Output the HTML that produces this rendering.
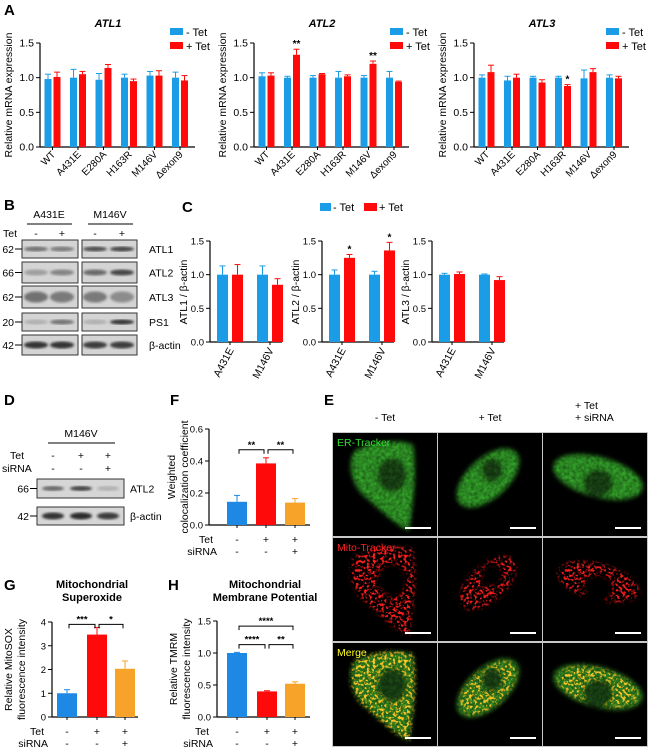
<!DOCTYPE html>
<html><head><meta charset="utf-8"><style>
html,body{margin:0;padding:0;background:#fff;}
svg{display:block;font-family:"Liberation Sans",Arial,sans-serif;}
</style></head><body>
<svg id="fig" width="654" height="755" viewBox="0 0 654 755" xmlns="http://www.w3.org/2000/svg">
<defs>
<filter id="blur1" x="-10%" y="-10%" width="120%" height="120%"><feGaussianBlur stdDeviation="1.2"/></filter>
<filter id="gtex" x="-20%" y="-20%" width="140%" height="140%">
<feGaussianBlur in="SourceGraphic" stdDeviation="2.5" result="b"/>
<feTurbulence type="fractalNoise" baseFrequency="0.3" numOctaves="2" seed="2" result="n"/>
<feColorMatrix in="n" type="matrix" values="0 0 0 0 0  0 0 0 0 0  0 0 0 0 0  0.7 0 0 0 0.45" result="m"/>
<feComposite in="b" in2="m" operator="in"/>
</filter>
<filter id="speck" x="-20%" y="-20%" width="140%" height="140%">
<feGaussianBlur in="SourceGraphic" stdDeviation="2" result="b"/>
<feTurbulence type="fractalNoise" baseFrequency="0.35" numOctaves="2" seed="5" result="n"/>
<feColorMatrix in="n" type="matrix" values="0 0 0 0 0  0 0 0 0 0  0 0 0 0 0  6 0 0 0 -2.9" result="m"/>
<feComposite in="b" in2="m" operator="in"/>
</filter>
<clipPath id="imgclip"><rect x="0" y="0" width="104" height="103"/></clipPath>
</defs>
</svg>
<script>
// ---------- DATA ----------
const catsA = ['WT','A431E','E280A','H163R','M146V','\u0394exon9'];
const tickValsA = [0, 0.5, 1.0, 1.5];
const tickLabelsA = ['0.0','0.5','1.0','1.5'];
const atl1Minus = [0.98, 1.00, 0.97, 1.00, 1.03, 1.00];
const atl1MinusErr = [0.07, 0.12, 0.09, 0.05, 0.06, 0.08];
const atl1Plus = [1.01, 1.05, 1.14, 0.95, 1.03, 0.96];
const atl1PlusErr = [0.07, 0.04, 0.05, 0.03, 0.07, 0.07];
const atl1Stars = ['', '', '', '', '', ''];
const atl2Minus = [1.02, 1.00, 1.00, 1.00, 1.00, 1.00];
const atl2MinusErr = [0.05, 0.02, 0.03, 0.09, 0.03, 0.09];
const atl2Plus = [1.03, 1.33, 1.05, 1.02, 1.20, 0.94];
const atl2PlusErr = [0.04, 0.08, 0.01, 0.02, 0.04, 0.01];
const atl2Stars = ['', '**', '', '', '**', ''];
const atl3Minus = [1.00, 0.96, 1.00, 1.00, 0.99, 1.00];
const atl3MinusErr = [0.04, 0.06, 0.02, 0.02, 0.12, 0.04];
const atl3Plus = [1.08, 1.00, 0.93, 0.88, 1.08, 0.99];
const atl3PlusErr = [0.10, 0.05, 0.04, 0.02, 0.05, 0.03];
const atl3Stars = ['', '', '', '*', '', ''];

const catsC = ['A431E','M146V'];
const cAtl1Minus = [1.0, 1.0];
const cAtl1MinusErr = [0.13, 0.13];
const cAtl1Plus = [1.0, 0.85];
const cAtl1PlusErr = [0.15, 0.09];
const cAtl2Minus = [1.0, 1.0];
const cAtl2MinusErr = [0.07, 0.05];
const cAtl2Plus = [1.25, 1.36];
const cAtl2PlusErr = [0.05, 0.12];
const cAtl2Stars = ['*', '*'];
const cAtl3Minus = [1.0, 1.0];
const cAtl3MinusErr = [0.02, 0.01];
const cAtl3Plus = [1.01, 0.92];
const cAtl3PlusErr = [0.03, 0.05];

const condTet = ['-', '+', '+'];
const condSi = ['-', '-', '+'];
const fVals = [0.145, 0.385, 0.14];
const fErr = [0.04, 0.035, 0.025];
const fTicks = [0, 0.2, 0.4, 0.6];
const fTickLabels = ['0.0','0.2','0.4','0.6'];
const gVals = [1.0, 3.47, 2.03];
const gErr = [0.15, 0.30, 0.33];
const gTicks = [0, 1, 2, 3, 4];
const gTickLabels = ['0','1','2','3','4'];
const hVals = [1.0, 0.40, 0.52];
const hErr = [0.01, 0.01, 0.03];
const hTicks = [0, 0.5, 1.0, 1.5];
const hTickLabels = ['0.0','0.5','1.0','1.5'];

// ---------- HELPERS ----------
const NS = 'http://www.w3.org/2000/svg';
const svg = document.getElementById('fig');
const BLUE = '#1b9ce6', RED = '#ff0a0a', BLUE2 = '#1e88e5', ORANGE = '#f7a229';
function el(tag, attrs, parent, name) {
  const e = document.createElementNS(NS, tag);
  for (const k in attrs) e.setAttribute(k, attrs[k]);
  
  
  (parent || svg).appendChild(e);
  return e;
}
function txt(x, y, s, attrs, parent, name) {
  const t = el('text', Object.assign({x: x, y: y, 'font-size': 10, fill: '#000'}, attrs || {}), parent, name);
  t.textContent = s;
  return t;
}
function line(x1, y1, x2, y2, parent, name, w) {
  return el('line', {x1: x1, y1: y1, x2: x2, y2: y2, stroke: '#000', 'stroke-width': w || 1}, parent, name);
}
function errBar(x, yTop, yErr, color, parent) {
  line(x, yTop, x, yErr, parent, 'error-bar').setAttribute('stroke', color);
  line(x - 3, yErr, x + 3, yErr, parent, 'error-cap').setAttribute('stroke', color);
}
function yAxis(ax, ys, vals, labels, parent, fs) {
  line(ax, ys(vals[vals.length - 1]), ax, ys(vals[0]), parent, 'y-axis', 1.2);
  vals.forEach((v, i) => {
    line(ax - 4, ys(v), ax, ys(v), parent, 'y-tick');
    txt(ax - 6, ys(v) + 3.5, labels[i], {'text-anchor': 'end', 'font-size': fs || 10.5}, parent, 'y-tick-label');
  });
}
function panelLetter(x, y, s) {
  txt(x, y, s, {'font-size': 15, 'font-weight': 'bold'}, svg, 'panel-label-' + s.toLowerCase());
}

// ---------- PANEL A ----------
function chartA(ax, title, minus, minusErr, plus, plusErr, stars, legX) {
  const g = el('g', {}, svg, 'chart-' + title.toLowerCase());
  const ys = v => 147 - v / 1.5 * 104;
  txt(ax + 68, 27, title, {'font-style': 'italic', 'font-weight': 'bold', 'font-size': 11, 'text-anchor': 'middle'}, g, 'chart-title');
  txt(0, 0, 'Relative mRNA expression', {'text-anchor': 'middle', 'font-size': 10.5, transform: 'translate(' + (ax - 28) + ',95) rotate(-90)'}, g, 'y-axis-title');
  yAxis(ax, ys, tickValsA, tickLabelsA, g);
  line(ax, ys(0), ax + 155, ys(0), g, 'x-axis', 1.2);
  catsA.forEach((c, i) => {
    const bx = ax + 8 + 25.5 * i;
    const rx = bx + 9;
    el('rect', {x: bx - 3.5, y: ys(minus[i]), width: 7, height: ys(0) - ys(minus[i]), fill: BLUE}, g, 'bar-minus-tet');
    errBar(bx, ys(minus[i]), ys(minus[i] + minusErr[i]), BLUE, g);
    el('rect', {x: rx - 3.5, y: ys(plus[i]), width: 7, height: ys(0) - ys(plus[i]), fill: RED}, g, 'bar-plus-tet');
    errBar(rx, ys(plus[i]), ys(plus[i] + plusErr[i]), RED, g);
    if (stars[i]) txt(rx, ys(plus[i] + plusErr[i]) - 2, stars[i], {'text-anchor': 'middle', 'font-size': 10, 'font-weight': 'bold'}, g, 'significance-star');
    line(bx + 4.5, ys(0), bx + 4.5, ys(0) + 3, g, 'x-tick');
    txt(0, 0, c, {'text-anchor': 'end', 'font-size': 10, transform: 'translate(' + (bx + 8) + ',155) rotate(-45)'}, g, 'x-tick-label');
  });
  el('rect', {x: legX, y: 28, width: 13, height: 7, fill: BLUE}, g, 'legend-swatch-minus-tet');
  txt(legX + 16, 36, '- Tet', {'font-size': 11}, g, 'legend-label-minus-tet');
  el('rect', {x: legX, y: 42, width: 13, height: 7, fill: RED}, g, 'legend-swatch-plus-tet');
  txt(legX + 16, 50, '+ Tet', {'font-size': 11}, g, 'legend-label-plus-tet');
}
panelLetter(4, 15, 'A');
chartA(40, 'ATL1', atl1Minus, atl1MinusErr, atl1Plus, atl1PlusErr, atl1Stars, 170);
chartA(254, 'ATL2', atl2Minus, atl2MinusErr, atl2Plus, atl2PlusErr, atl2Stars, 390);
chartA(474, 'ATL3', atl3Minus, atl3MinusErr, atl3Plus, atl3PlusErr, atl3Stars, 606);

// ---------- PANEL B (western blots) ----------
panelLetter(4, 210, 'B');
(function () {
  const g = el('g', {}, svg, 'western-blot-b');
  txt(49, 218, 'A431E', {'text-anchor': 'middle', 'font-size': 10.5}, g, 'group-label-a431e');
  line(27, 224, 72, 224, g, 'group-line');
  txt(110, 218, 'M146V', {'text-anchor': 'middle', 'font-size': 10.5}, g, 'group-label-m146v');
  line(88, 224, 133, 224, g, 'group-line');
  txt(3, 237, 'Tet', {'font-size': 10.5}, g, 'tet-label');
  const lanes = [36, 62, 95, 122];
  ['-', '+', '-', '+'].forEach((s, i) => txt(lanes[i], 237, s, {'text-anchor': 'middle', 'font-size': 10.5}, g, 'tet-sign'));
  const rows = [
    {y: 240, h: 18, mw: '62', p: 'ATL1', dark: [0.55, 0.5, 0.75, 0.8], bh: 5},
    {y: 262, h: 21, mw: '66', p: 'ATL2', dark: [0.3, 0.45, 0.6, 0.8], bh: 6},
    {y: 286, h: 22, mw: '62', p: 'ATL3', dark: [0.55, 0.5, 0.5, 0.4], bh: 11},
    {y: 313, h: 18, mw: '20', p: 'PS1', dark: [0.2, 0.55, 0.2, 0.9], bh: 5},
    {y: 335, h: 20, mw: '42', p: '\u03b2-actin', dark: [0.9, 0.9, 0.85, 0.85], bh: 7}
  ];
  rows.forEach(r => {
    [[22, 56], [82, 55]].forEach(bx => {
      el('rect', {x: bx[0], y: r.y, width: bx[1], height: r.h, fill: '#d4d4d4', stroke: '#333', 'stroke-width': 1}, g, 'blot-strip');
    });
    r.dark.forEach((d, i) => {
      el('ellipse', {cx: lanes[i], cy: r.y + r.h / 2, rx: 12, ry: r.bh / 2, fill: '#222', opacity: d, filter: 'url(#blur1)'}, g, 'blot-band');
    });
    txt(14, r.y + r.h / 2 + 4, r.mw, {'text-anchor': 'end', 'font-size': 10.5}, g, 'mw-marker');
    line(15, r.y + r.h / 2, 22, r.y + r.h / 2, g, 'mw-tick');
    txt(149, r.y + r.h / 2 + 4, r.p, {'font-size': 10.5}, g, 'protein-label');
  });
})();

// ---------- PANEL C ----------
panelLetter(182, 212, 'C');
function chartC(ax, label, minus, minusErr, plus, plusErr, stars) {
  const g = el('g', {}, svg, 'chart-c-' + label.split(' ')[0].toLowerCase());
  const ys = v => 342 - v / 1.5 * 101;
  txt(0, 0, label, {'text-anchor': 'middle', 'font-size': 10.5, transform: 'translate(' + (ax - 23) + ',292) rotate(-90)'}, g, 'y-axis-title');
  yAxis(ax, ys, tickValsA, tickLabelsA, g, 9.5);
  line(ax, ys(0), ax + 72, ys(0), g, 'x-axis', 1.2);
  catsC.forEach((c, i) => {
    const cx = ax + 20 + 40 * i;
    el('rect', {x: cx - 13, y: ys(minus[i]), width: 11, height: ys(0) - ys(minus[i]), fill: BLUE}, g, 'bar-minus-tet');
    errBar(cx - 7.5, ys(minus[i]), ys(minus[i] + minusErr[i]), BLUE, g);
    el('rect', {x: cx + 2, y: ys(plus[i]), width: 11, height: ys(0) - ys(plus[i]), fill: RED}, g, 'bar-plus-tet');
    errBar(cx + 7.5, ys(plus[i]), ys(plus[i] + plusErr[i]), RED, g);
    if (stars && stars[i]) txt(cx + 7.5, ys(plus[i] + plusErr[i]) - 2, stars[i], {'text-anchor': 'middle', 'font-size': 10, 'font-weight': 'bold'}, g, 'significance-star');
    line(cx, ys(0), cx, ys(0) + 3, g, 'x-tick');
    txt(0, 0, c, {'text-anchor': 'end', 'font-size': 10.5, transform: 'translate(' + (cx + 4) + ',350) rotate(-62)'}, g, 'x-tick-label');
  });
}
(function () {
  const g = el('g', {}, svg, 'legend-c');
  el('rect', {x: 320, y: 203, width: 11, height: 8, fill: BLUE}, g, 'legend-swatch-minus-tet');
  txt(333, 211, '- Tet', {'font-size': 11}, g, 'legend-label-minus-tet');
  el('rect', {x: 364, y: 203, width: 13, height: 8, fill: RED}, g, 'legend-swatch-plus-tet');
  txt(379, 211, '+ Tet', {'font-size': 11}, g, 'legend-label-plus-tet');
})();
chartC(210, 'ATL1 / \u03b2-actin', cAtl1Minus, cAtl1MinusErr, cAtl1Plus, cAtl1PlusErr, null);
chartC(322, 'ATL2 / \u03b2-actin', cAtl2Minus, cAtl2MinusErr, cAtl2Plus, cAtl2PlusErr, cAtl2Stars);
chartC(432, 'ATL3 / \u03b2-actin', cAtl3Minus, cAtl3MinusErr, cAtl3Plus, cAtl3PlusErr, null);

// ---------- PANEL D ----------
panelLetter(4, 405, 'D');
(function () {
  const g = el('g', {}, svg, 'western-blot-d');
  txt(81, 437, 'M146V', {'text-anchor': 'middle', 'font-size': 10.5}, g, 'group-label-m146v');
  line(48, 443, 115, 443, g, 'group-line');
  const lanes = [53, 81, 108];
  txt(10, 459, 'Tet', {'font-size': 10.5}, g, 'tet-label');
  txt(2, 472, 'siRNA', {'font-size': 10.5}, g, 'sirna-label');
  lanes.forEach((x, i) => {
    txt(x, 459, condTet[i], {'text-anchor': 'middle', 'font-size': 10.5}, g, 'tet-sign');
    txt(x, 472, condSi[i], {'text-anchor': 'middle', 'font-size': 10.5}, g, 'sirna-sign');
  });
  [[479, 19, '66', 'ATL2', [0.6, 0.8, 0.2], 5], [507, 18, '42', '\u03b2-actin', [0.9, 0.95, 0.85], 7]].forEach(r => {
    el('rect', {x: 37, y: r[0], width: 87, height: r[1], fill: '#d6d6d6', stroke: '#333'}, g, 'blot-strip');
    r[4].forEach((d, i) => el('ellipse', {cx: lanes[i], cy: r[0] + r[1] / 2, rx: 11, ry: r[5] / 2, fill: '#222', opacity: d, filter: 'url(#blur1)'}, g, 'blot-band'));
    txt(29, r[0] + r[1] / 2 + 4, r[2], {'text-anchor': 'end', 'font-size': 10.5}, g, 'mw-marker');
    line(30, r[0] + r[1] / 2, 37, r[0] + r[1] / 2, g, 'mw-tick');
    txt(130, r[0] + r[1] / 2 + 4, r[3], {'font-size': 10.5}, g, 'protein-label');
  });
})();

// ---------- 3-bar charts (F, G, H) ----------
function chart3(opts) {
  const g = el('g', {}, svg, opts.name);
  const ys = v => opts.y0 - v / opts.max * opts.h;
  yAxis(opts.ax, ys, opts.ticks, opts.tickLabels, g, 9.5);
  line(opts.ax, ys(0), opts.ax + opts.len, ys(0), g, 'x-axis', 1.2);
  const cols = [BLUE2, RED, ORANGE];
  opts.vals.forEach((v, i) => {
    const cx = opts.ax + opts.off[i];
    el('rect', {x: cx - 10, y: ys(v), width: 20, height: ys(0) - ys(v), fill: cols[i]}, g, 'bar-condition-' + (i + 1));
    errBar(cx, ys(v), ys(v + opts.err[i]), cols[i], g);
    line(cx, ys(0), cx, ys(0) + 3, g, 'x-tick');
    txt(cx, opts.rowY, condTet[i], {'text-anchor': 'middle', 'font-size': 10.5}, g, 'tet-sign');
    txt(cx, opts.rowY + 12, condSi[i], {'text-anchor': 'middle', 'font-size': 10.5}, g, 'sirna-sign');
  });
  txt(opts.labX, opts.rowY, 'Tet', {'text-anchor': 'end', 'font-size': 10.5}, g, 'tet-label');
  txt(opts.labX + 4, opts.rowY + 12, 'siRNA', {'text-anchor': 'end', 'font-size': 10.5}, g, 'sirna-label');
  opts.brackets.forEach(b => {
    const x1 = opts.ax + opts.off[b[0]] + 2, x2 = opts.ax + opts.off[b[1]] - 2, y = ys(b[2]);
    el('path', {d: 'M' + x1 + ',' + (y + 4) + 'V' + y + 'H' + x2 + 'V' + (y + 4), fill: 'none', stroke: '#000', 'stroke-width': 1}, g, 'significance-bracket');
    txt((x1 + x2) / 2, y - 2, b[3], {'text-anchor': 'middle', 'font-size': 9.5, 'font-weight': 'bold'}, g, 'significance-star');
  });
  opts.yTitle.forEach((t, i) => {
    txt(0, 0, t, {'text-anchor': 'middle', 'font-size': 10.5, transform: 'translate(' + (opts.ytX + 13 * i) + ',' + (opts.y0 - opts.h / 2) + ') rotate(-90)'}, g, 'y-axis-title');
  });
  if (opts.title) opts.title.forEach((t, i) => txt(opts.titleX, opts.titleY + 13 * i, t, {'text-anchor': 'middle', 'font-size': 11, 'font-weight': 'bold'}, g, 'chart-title'));
}
panelLetter(170, 405, 'F');
chart3({name: 'chart-f', ax: 209, y0: 525, h: 96, max: 0.6, len: 101, off: [28, 57, 86], vals: fVals, err: fErr,
  ticks: fTicks, tickLabels: fTickLabels, rowY: 543, labX: 213,
  brackets: [[0, 1, 0.47, '**'], [1, 2, 0.47, '**']], yTitle: ['Weighted', 'colocalization coefficient'], ytX: 175});
panelLetter(4, 590, 'G');
chart3({name: 'chart-g', ax: 52, y0: 717, h: 95, max: 4, len: 86, off: [15, 45, 73], vals: gVals, err: gErr,
  ticks: gTicks, tickLabels: gTickLabels, rowY: 735, labX: 44,
  brackets: [[0, 1, 3.9, '***'], [1, 2, 3.9, '*']], yTitle: ['Relative MitoSOX', 'fluorescence intensity'], ytX: 12,
  title: ['Mitochondrial', 'Superoxide'], titleX: 92, titleY: 588});
panelLetter(168, 590, 'H');
chart3({name: 'chart-h', ax: 217, y0: 717, h: 96, max: 1.5, len: 93, off: [20, 50, 78], vals: hVals, err: hErr,
  ticks: hTicks, tickLabels: hTickLabels, rowY: 735, labX: 209,
  brackets: [[0, 2, 1.42, '****'], [0, 1, 1.13, '****'], [1, 2, 1.13, '**']], yTitle: ['Relative TMRM', 'fluorescence intensity'], ytX: 177,
  title: ['Mitochondrial', 'Membrane Potential'], titleX: 265, titleY: 588});

// ---------- PANEL E (microscopy) ----------
panelLetter(324, 405, 'E');
(function () {
  const g = el('g', {}, svg, 'microscopy-grid');
  txt(385, 421, '- Tet', {'text-anchor': 'middle', 'font-size': 10.5}, g, 'column-header');
  txt(490, 421, '+ Tet', {'text-anchor': 'middle', 'font-size': 10.5}, g, 'column-header');
  txt(575, 409, '+ Tet', {'font-size': 10.5}, g, 'column-header');
  txt(575, 421, '+ siRNA', {'font-size': 10.5}, g, 'column-header');
  el('rect', {x: 332, y: 432, width: 316, height: 315, fill: '#c8c8c8'}, g, 'grid-border');
  const colX = [333, 438, 543], rowY = [433, 538, 643];
  const cells = [
    {body: 'M22,18 C40,8 70,6 80,12 C84,40 80,70 76,98 C60,90 40,70 28,60 C18,48 14,30 22,18 Z', nx: 59, ny: 42, nrx: 15, nry: 17},
    {body: null, cx: 50, cy: 45, rx: 38, ry: 20, erot: -42, nx: 54, ny: 37, nrx: 11, nry: 12},
    {body: null, cx: 55, cy: 44, rx: 46, ry: 20, erot: 15, nx: 55, ny: 50, nrx: 15, nry: 14}
  ];
  const rowNames = ['ER-Tracker', 'Mito-Tracker', 'Merge'];
  const rowColors = ['#2fe02f', '#ff2020', '#ffff20'];
  colX.forEach((x, ci) => {
    rowY.forEach((y, ri) => {
      const img = el('g', {transform: 'translate(' + x + ',' + y + ')', 'clip-path': 'url(#imgclip)'}, g, 'micrograph-' + rowNames[ri].toLowerCase() + '-col' + (ci + 1));
      el('rect', {x: 0, y: 0, width: 104, height: 103, fill: '#000'}, img, 'image-background');
      const c = cells[ci];
      function shape(parent, fill, name, shrink) {
        if (c.body) return el('path', {d: c.body, fill: fill}, parent, name);
        return el('ellipse', {cx: c.cx, cy: c.cy, rx: c.rx * (shrink || 1), ry: c.ry * (shrink || 1), fill: fill, transform: 'rotate(' + c.erot + ' ' + c.cx + ' ' + c.cy + ')'}, parent, name);
      }
      if (ri === 0 || ri === 2) {
        const gg = el('g', {filter: 'url(#gtex)'}, img, 'er-signal');
        shape(gg, ri === 0 ? '#34a82a' : '#2f8a20', 'cell-body');
        el('ellipse', {cx: c.nx, cy: c.ny, rx: c.nrx, ry: c.nry, fill: '#1a4a14'}, gg, 'nucleus');
      }
      if (ri === 1 || ri === 2) {
        const rg = el('g', {filter: 'url(#speck)', style: ri === 2 ? 'mix-blend-mode:screen' : ''}, img, 'mito-signal');
        shape(rg, ri === 2 ? '#ff9a10' : '#ff1a1a', 'cell-body', 0.9);
        el('ellipse', {cx: c.nx, cy: c.ny, rx: c.nrx + 1, ry: c.nry + 1, fill: '#000'}, rg, 'nucleus');
      }
      line(72, 95, 98, 95, img, 'scale-bar', 2).setAttribute('stroke', '#fff');
      if (ci === 0) txt(4, 13, rowNames[ri], {'font-size': 10.5, fill: rowColors[ri]}, img, 'channel-label');
    });
  });
})();
</script>
</body></html>
